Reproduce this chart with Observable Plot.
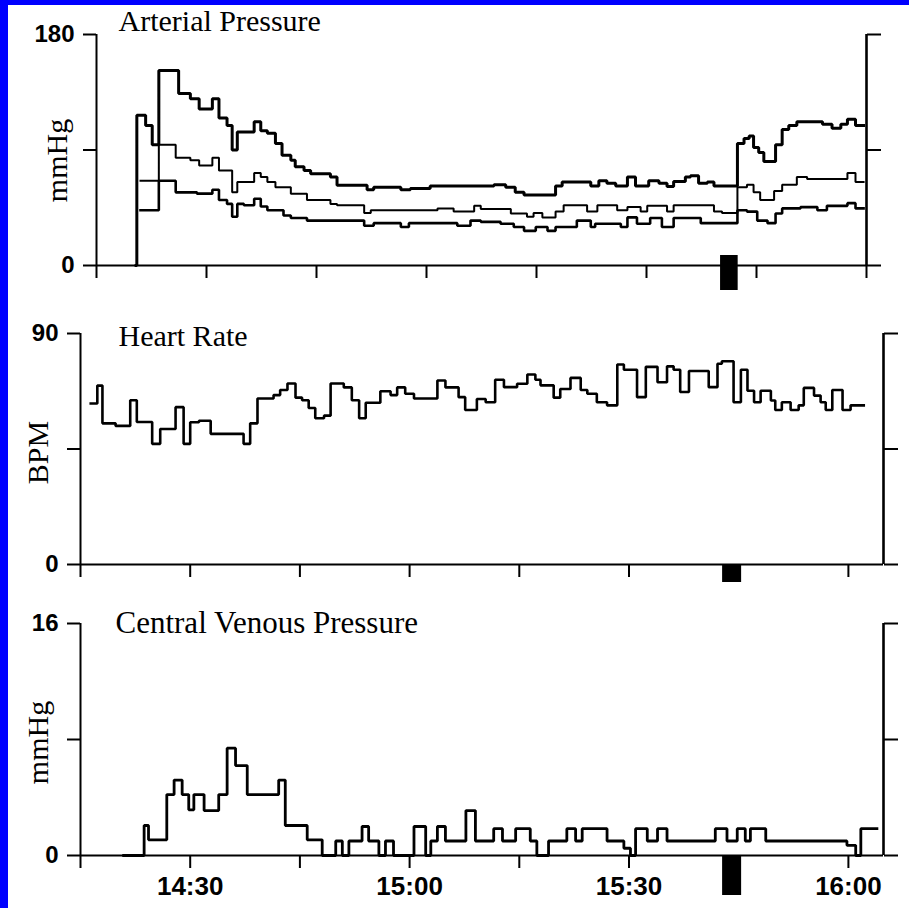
<!DOCTYPE html>
<html>
<head>
<meta charset="utf-8">
<script src="https://cdn.jsdelivr.net/npm/d3@7"></script>
<script src="https://cdn.jsdelivr.net/npm/@observablehq/plot@0.6"></script>
<style>
html, body { margin: 0; padding: 0; background: #fff; }
#page { position: relative; width: 909px; height: 908px; overflow: hidden; background: #fff; }
#page svg { position: absolute; left: 0; }
.edge { position: absolute; background: #0000ff; z-index: 5; }
</style>
</head>
<body>
<div id="page">
  <div class="edge" style="left:0;top:0;width:8px;height:908px"></div>
  <div class="edge" style="left:0;top:0;width:909px;height:5px"></div>
</div>
<script>
// ---------- data (time = minutes after 14:00) ----------
const xTicks = [15, 30, 45, 60, 75, 90, 105, 120];
const xLabelTicks = [30, 60, 90, 120];
const xLabelText = ["14:30", "15:00", "15:30", "16:00"];

const panelTitles = ["Arterial Pressure", "Heart Rate", "Central Venous Pressure"];
const panelUnits = ["mmHg", "BPM", "mmHg"];
const yMax = [180, 90, 16];
const xEnd = [120, 124.8, 124.8];
const eventStart = [100.1, 102.8, 102.8];
const eventEnd = [102.5, 105.4, 105.4];

// Arterial pressure – systolic
const sysTime = [20.4, 20.5, 21.7, 22.6, 23.5, 26.2, 27.8, 29.0, 30.8, 31.7, 32.8, 33.5, 34.2, 36.5, 37.4, 38.3, 39.4, 40.3, 41.5, 42.1, 43.3, 44.2, 46.9, 47.8, 51.9, 52.8, 56.5, 57.8, 60.5,
  67.4, 69.2, 70.8, 72.1, 73.3, 77.6, 78.5, 82.4, 83.5, 84.6, 85.8, 87.4, 88.5, 90.3, 91.7, 92.8, 93.7, 95.3, 96.0, 97.1, 98.3, 99.2,
  102.4, 103.3, 104.0, 104.6, 105.3, 106.0, 107.6, 108.5, 109.4, 110.5, 114.0, 115.3, 116.5, 117.4, 118.5, 119.6];
const sysValue = [0, 117, 109, 94, 152, 134, 130, 122, 130, 115, 109, 90, 104, 112, 105, 103, 95, 86, 82, 77, 74, 71.5, 69, 62.5, 59, 61, 59, 60, 62,
  62, 63, 61, 57, 55, 62, 65, 62, 66, 64, 62, 69, 62, 66, 64, 61.5, 65.5, 69, 70, 64, 65, 62,
  95, 99, 101, 92, 88, 81, 94, 106, 109, 112, 110, 107, 110, 114, 109, 109];

// Arterial pressure – mean
const meanTime = [21.0, 23.5, 25.8, 27.8, 29.0, 30.8, 31.7, 33.5, 34.2, 36.5, 37.4, 38.3, 39.4, 41.5, 43.7, 46.9, 47.8, 51.5, 52.4, 61.5, 63.7, 66.5,
  67.4, 71.5, 73.7, 74.6, 75.8, 77.6, 78.7, 81.9, 83.3, 86.0, 87.4, 89.2, 90.1, 92.8, 93.7, 99.2, 100.3,
  102.4, 103.7, 104.6, 105.5, 107.4, 108.5, 110.5, 111.9, 117.4, 118.5, 119.6];
const meanValue = [66, 94, 84, 82, 78, 84, 74, 57, 65, 72, 69, 65, 61, 56, 51, 48, 47, 41, 43, 44.5, 42, 46.5,
  44, 40.5, 38, 41, 37.5, 42, 47, 42, 47, 43, 45.5, 42, 46.5, 42, 47, 42, 41,
  61, 63, 57, 51, 58, 63, 69, 67.5, 72, 65, 65];

// Arterial pressure – diastolic
const diaTime = [21.0, 23.5, 25.8, 28.7, 30.8, 31.7, 32.8, 33.5, 34.2, 35.1, 36.5, 37.4, 38.3, 40.5, 41.5, 43.7, 51.5, 52.8, 56.5, 57.6, 64.2, 66.0,
  67.4, 70.1, 71.9, 73.3, 74.9, 76.5, 77.6, 80.5, 82.4, 83.0, 86.5, 87.4, 88.7, 90.5, 92.1, 93.7, 97.4,
  102.4, 103.7, 105.1, 106.5, 107.6, 108.5, 111.0, 113.3, 114.6, 117.4, 118.5, 119.6];
const diaValue = [43, 66, 57, 56, 59, 51, 48, 38, 48, 47, 52, 46, 43, 39, 37, 35, 31, 33, 30, 33, 31, 35,
  34, 32.5, 30, 27, 30, 27, 30, 35, 30, 32.5, 30, 37.5, 32.5, 37, 30, 37, 33,
  43, 42, 35, 33, 40.5, 44.5, 45.5, 43, 46.5, 48.6, 44.5, 44.5];

// Heart rate
const hrTime = [16.4, 17.3, 18.0, 19.8, 21.8, 22.7, 24.8, 25.9, 28.0, 29.1, 30.0, 31.2, 32.8, 37.3, 38.2, 39.2, 41.4, 42.3, 43.3, 44.4, 45.3, 46.2, 47.1, 48.3, 49.2, 51.0, 52.1, 53.1, 54.0, 56.0, 57.4, 58.3, 59.4, 60.6, 63.8, 64.9,
  66.7, 67.6, 69.2, 70.4, 71.7, 72.9, 74.7, 76.1, 77.2, 77.9, 79.7, 80.6, 82.0, 83.4, 84.3, 85.6, 87.0, 88.4, 89.3, 91.1, 92.3, 93.9, 95.2, 96.1, 97.0, 98.2, 100.9, 102.1, 102.7,
  104.3, 105.3, 106.2, 107.1, 108.0, 109.4, 110.0, 110.9, 112.1, 113.2, 113.9, 115.3, 116.2, 116.9, 117.8, 119.2, 120.3, 122.1];
const hrValue = [62.7, 69.7, 55, 54, 64, 55.5, 47, 52.8, 61.3, 47, 55.4, 56, 50.9, 47, 55, 64.7, 66, 68, 70.5, 65, 64, 61, 57, 58, 70.5, 69, 64, 57, 63, 67.5, 66, 69, 66.5, 64.7, 71.7, 69,
  65.2, 60.2, 64.5, 63.2, 72, 69.1, 70.4, 74, 72, 69.8, 65, 68.4, 72.7, 68, 66.5, 63.2, 62, 77.9, 75.9, 65.2, 77, 71, 77.2, 75.9, 67.2, 75.4, 69.1, 78.2, 79.2,
  63.2, 75.9, 67.7, 63.2, 67.7, 63.9, 60.2, 63.2, 60.2, 62, 68.8, 65.8, 63.2, 60.2, 68, 60.2, 62, 62];

// Central venous pressure
const cvpTime = [20.9, 23.7, 24.3, 26.8, 27.8, 28.9, 29.8, 30.5, 31.9, 33.9, 35.05, 36.2, 37.8, 42.1, 43.0, 46.0, 48.05, 49.9, 50.8, 51.7, 53.5, 54.4, 55.8, 56.7, 57.8, 60.6, 62.2, 62.9, 63.8, 64.9, 67.7, 69.0,
  71.5, 72.7, 74.5, 76.5, 77.4, 79.0, 81.5, 82.7, 83.6, 87.0, 89.3, 90.2, 90.9, 92.5, 93.9, 95.2, 101.8, 103.4, 104.8, 105.9, 106.6, 108.7, 119.8, 121.0, 121.7, 123.9];
const cvpValue = [0, 2.07, 1.08, 4.2, 5.2, 4.2, 3.15, 4.2, 3.1, 4.2, 7.4, 6.2, 4.2, 5.2, 2.07, 1.08, 0, 1, 0, 1, 2, 1, 0, 1, 0, 2, 0, 1, 2, 1, 3.1, 1,
  1.85, 1, 1.85, 1, 0, 1, 1.85, 1, 1.85, 1, 0.5, 0, 1.85, 1, 1.85, 1, 1.85, 1, 1.85, 1, 1.85, 1, 0.7, 0, 1.85, 1.85];

// ---------- layout / style ----------
const rows = (ts, vs) => ts.map((t, i) => ({t, v: vs[i]}));
const layout = [
  {top: 0,   height: 300, ml: 96, mr: 43, mt: 34, mb: 35, tdx: 22, tdy: -4, ldx: -39, ldy: 10.5, evTop: -10, evBottom: -25, xLabels: false},
  {top: 300, height: 290, ml: 80, mr: 26, mt: 33, mb: 26, tdx: 38, tdy: 12, ldx: -42, ldy: 3.5, evTop: 0, evBottom: -18, xLabels: false},
  {top: 590, height: 318, ml: 80, mr: 26, mt: 33, mb: 53, tdx: 35, tdy: 9,  ldx: -42, ldy: 3,   evTop: 0, evBottom: -40, xLabels: true}
];
const titleSize = [30, 30, 31];
const seriesByPanel = [
  [{d: rows(sysTime, sysValue), w: 3}, {d: rows(meanTime, meanValue), w: 2}, {d: rows(diaTime, diaValue), w: 2.6}],
  [{d: rows(hrTime, hrValue), w: 2.6}],
  [{d: rows(cvpTime, cvpValue), w: 2.8}]
];
const serif = "'Liberation Serif', 'Times New Roman', serif";
const sans = "'Liberation Sans', Arial, sans-serif";

const page = document.getElementById("page");
layout.forEach((L, p) => {
  const top = yMax[p];
  const yTicks = [0, top / 2, top];
  const marks = [
    Plot.ruleY([0], {strokeWidth: 2}),
    Plot.ruleX([15], {strokeWidth: 2}),
    Plot.ruleX([xEnd[p]], {strokeWidth: 2.6}),
    Plot.axisY({ticks: yTicks, tickSize: 13, tickPadding: 9, strokeWidth: 2, label: null,
      tickFormat: d => (d === top / 2 ? "" : String(d)), fontSize: 24, fontWeight: "bold", fontFamily: sans}),
    Plot.axisY({anchor: "right", ticks: yTicks, tickSize: 14, strokeWidth: 2, label: null, tickFormat: () => ""}),
    Plot.axisX({ticks: xTicks, tickSize: 13, strokeWidth: 2, label: null, tickFormat: () => ""}),
    ...seriesByPanel[p].map(s => Plot.line(s.d, {x: "t", y: "v", curve: "step-after", stroke: "black", strokeWidth: s.w, strokeLinejoin: "miter", strokeLinecap: "square"})),
    Plot.rect([{s: eventStart[p], e: eventEnd[p]}], {x1: "s", x2: "e", y1: 0, y2: 0, insetTop: L.evTop, insetBottom: L.evBottom, fill: "black"}),
    Plot.text([panelTitles[p]], {text: d => d, frameAnchor: "top-left", dx: L.tdx, dy: L.tdy, textAnchor: "start", lineAnchor: "bottom",
      fontFamily: serif, fontSize: titleSize[p], fontWeight: "normal", fill: "black"}),
    Plot.text([panelUnits[p]], {text: d => d, frameAnchor: "left", dx: L.ldx, dy: L.ldy, rotate: -90, textAnchor: "middle", lineAnchor: "middle",
      fontFamily: serif, fontSize: 30, fontWeight: "normal", fill: "black"})
  ];
  if (L.xLabels) {
    marks.push(Plot.axisX({ticks: xLabelTicks, tickSize: 0, tickPadding: 21, label: null,
      tickFormat: d => xLabelText[xLabelTicks.indexOf(d)], fontSize: 26, fontWeight: "bold", fontFamily: sans}));
  }
  const svg = Plot.plot({
    width: 909, height: L.height,
    marginLeft: L.ml, marginRight: L.mr, marginTop: L.mt, marginBottom: L.mb,
    x: {type: "linear", domain: [15, xEnd[p]], label: null},
    y: {type: "linear", domain: [0, top], label: null},
    style: {fontFamily: sans, fontSize: "22px", fontWeight: "bold", color: "black", background: "transparent", overflow: "visible"},
    marks
  });
  svg.style.top = L.top + "px";
  page.appendChild(svg);
});
</script>
</body>
</html>
